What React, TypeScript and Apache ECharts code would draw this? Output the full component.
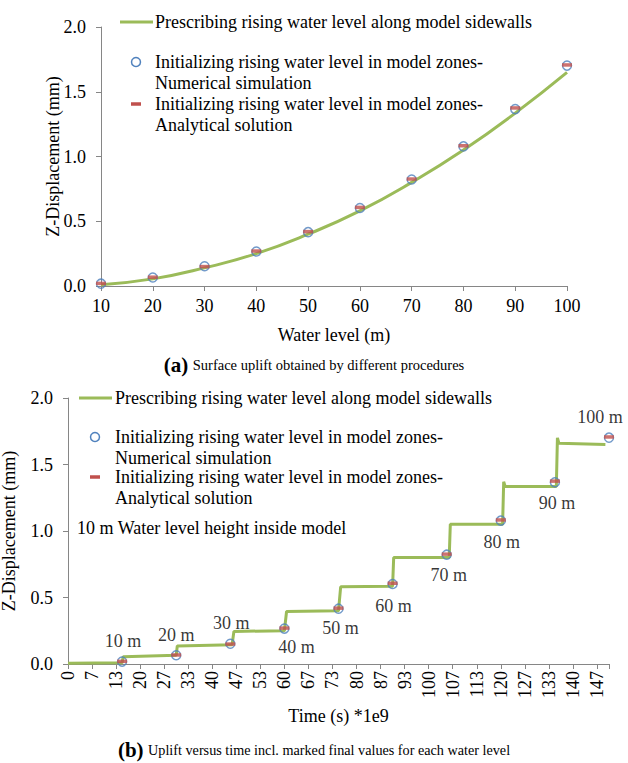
import React, { useEffect, useRef } from 'react';
import * as echarts from 'echarts';

// ---------- data ----------
const waterLevels = [10, 20, 30, 40, 50, 60, 70, 80, 90, 100];
const sidewallUplift = [0.01, 0.055, 0.14, 0.25, 0.4, 0.58, 0.8, 1.05, 1.335, 1.65];
const numericalUplift = [0.018, 0.066, 0.152, 0.266, 0.416, 0.602, 0.822, 1.078, 1.366, 1.702];
const analyticalUplift = [0.02, 0.068, 0.15, 0.27, 0.42, 0.607, 0.826, 1.083, 1.375, 1.707];

const finalTimes = [15, 30, 45, 60, 75, 90, 105, 120, 135, 150];
const levelLabels = ['10 m', '20 m', '30 m', '40 m', '50 m', '60 m', '70 m', '80 m', '90 m', '100 m'];

const stepTimes = [0, 15, 15.3, 30, 30.3, 45.5, 46, 60, 60.6, 75, 75.6, 90, 90.3, 105.7, 106, 120.5, 120.8, 121.2, 135.4, 135.7, 136.1, 149];
const stepUplift = [0.005, 0.01, 0.055, 0.065, 0.135, 0.145, 0.245, 0.25, 0.395, 0.4, 0.58, 0.585, 0.8, 0.8, 1.05, 1.05, 1.37, 1.335, 1.335, 1.7, 1.66, 1.65];

const timeTickLabels = ['0', '7', '13', '20', '27', '33', '40', '47', '53', '60', '67', '73', '80', '87', '93', '100', '107', '113', '120', '127', '133', '140', '147'];
const upliftTicks = ['0.0', '0.5', '1.0', '1.5', '2.0'];

const NAME_SIDE = 'Prescribing rising water level along model sidewalls';
const NAME_NUM = 'Initializing rising water level in model zones-\nNumerical simulation';
const NAME_ANA = 'Initializing rising water level in model zones-\nAnalytical solution';

// ---------- style ----------
const FONT = 'Liberation Serif';
const GREEN = '#9BBB59';
const BLUE = '#4F81BD';
const RED = '#C0504D';
const AXIS = '#868686';
const LABEL_OFFSETS = [[1, -20], [0, -20], [1, -21], [12, 19], [2, 20], [1, 23], [2, 21], [1, 22], [2, 22], [-9, -20]];

export default function App() {
  const ref = useRef<HTMLDivElement>(null);

  useEffect(() => {
    if (!ref.current) return;
    const chart = echarts.init(ref.current, undefined, { renderer: 'svg' });

    const yAxisBase = (gridIndex: number, nameGap: number) => ({
      type: 'value',
      gridIndex,
      min: 0,
      max: 2,
      interval: 0.5,
      name: 'Z-Displacement (mm)',
      nameLocation: 'middle',
      nameGap,
      nameMoveOverlap: false,
      nameTextStyle: { fontFamily: FONT, fontSize: 18, color: '#000' },
      axisLine: { show: true, lineStyle: { color: AXIS, width: 1 } },
      axisTick: { show: true, length: 5, lineStyle: { color: AXIS } },
      axisLabel: {
        fontFamily: FONT,
        fontSize: 18,
        color: '#000',
        margin: 15,
        formatter: (v: number) => upliftTicks[Math.round(v / 0.5)] ?? '',
      },
      splitLine: { show: false },
    });

    const txt = (x: number, y: number, text: string) => ({
      type: 'text',
      x,
      y,
      style: { text, fontFamily: FONT, fontSize: 18, lineHeight: 21, fill: '#000', verticalAlign: 'top' },
    });

    const legendGraphics = (lineX: number, textX: number, y0: number, y1: number, y2: number) => [
      { type: 'line', shape: { x1: lineX, y1: y0, x2: lineX + 33, y2: y0 }, style: { stroke: GREEN, lineWidth: 3 } },
      txt(textX, y0 - 10.5, NAME_SIDE),
      { type: 'circle', shape: { cx: lineX + 16, cy: y1, r: 4.5 }, style: { stroke: BLUE, lineWidth: 1.5, fill: 'none' } },
      txt(textX, y1 - 10.5, NAME_NUM),
      { type: 'rect', shape: { x: lineX + 11, y: y2 - 1.75, width: 10, height: 3.5 }, style: { fill: RED } },
      txt(textX, y2 - 10.5, NAME_ANA),
    ];

    const captionRich = (small: number) => ({
      b: { fontFamily: FONT, fontSize: 21, fontWeight: 'bold', color: '#000', lineHeight: 24 },
      n: { fontFamily: FONT, fontSize: small, fontWeight: 'normal', color: '#000', lineHeight: 24 },
    });

    const option: any = {
      animation: false,
      textStyle: { fontFamily: FONT },
      title: [
        {
          left: 'center',
          top: 353,
          padding: 0,
          text: '{b|(a)} {n|Surface uplift obtained by different procedures}',
          textStyle: { fontWeight: 'normal', rich: captionRich(14.5) },
        },
        {
          left: 'center',
          top: 738,
          padding: 0,
          text: '{b|(b)} {n|Uplift versus time incl. marked final values for each water level}',
          textStyle: { fontWeight: 'normal', rich: captionRich(14.2) },
        },
      ],
      grid: [
        { left: 101, top: 27, width: 466, height: 259, outerBoundsMode: 'none', containLabel: false },
        { left: 68, top: 398, width: 541, height: 266, outerBoundsMode: 'none', containLabel: false },
      ],
      xAxis: [
        {
          type: 'value',
          gridIndex: 0,
          min: 10,
          max: 100,
          interval: 10,
          name: 'Water level (m)',
          nameLocation: 'middle',
          nameGap: 40,
          nameMoveOverlap: false,
          nameTextStyle: { fontFamily: FONT, fontSize: 18, color: '#000' },
          axisLine: { show: true, lineStyle: { color: AXIS, width: 1 } },
          axisTick: { show: true, length: 5, lineStyle: { color: AXIS } },
          axisLabel: { fontFamily: FONT, fontSize: 18, color: '#000', margin: 11 },
          splitLine: { show: false },
        },
        {
          type: 'value',
          gridIndex: 1,
          min: 0,
          max: 150,
          interval: 20 / 3,
          name: 'Time (s) *1e9',
          nameLocation: 'middle',
          nameGap: 43,
          nameMoveOverlap: false,
          nameTextStyle: { fontFamily: FONT, fontSize: 18, color: '#000' },
          axisLine: { show: true, lineStyle: { color: AXIS, width: 1 } },
          axisTick: { show: true, length: 5, lineStyle: { color: AXIS } },
          axisLabel: {
            fontFamily: FONT,
            fontSize: 18,
            color: '#000',
            rotate: 90,
            margin: 7,
            formatter: (v: number) => {
              if (v > 148) return '';
              return timeTickLabels[Math.round(v / (20 / 3))] ?? '';
            },
          },
          splitLine: { show: false },
        },
      ],
      yAxis: [yAxisBase(0, 39), yAxisBase(1, 50)],
      series: [
        {
          name: NAME_SIDE,
          type: 'line',
          xAxisIndex: 0,
          yAxisIndex: 0,
          smooth: true,
          showSymbol: false,
          symbol: 'none',
          lineStyle: { color: GREEN, width: 3 },
          itemStyle: { color: GREEN },
          data: waterLevels.map((w, i) => [w, sidewallUplift[i]]),
          z: 2,
        },
        {
          name: NAME_NUM,
          type: 'scatter',
          xAxisIndex: 0,
          yAxisIndex: 0,
          symbol: 'circle',
          symbolSize: 9,
          itemStyle: { color: 'rgba(0,0,0,0)', borderColor: BLUE, borderWidth: 1.5 },
          data: waterLevels.map((w, i) => [w, numericalUplift[i]]),
          z: 3,
        },
        {
          name: NAME_ANA,
          type: 'scatter',
          xAxisIndex: 0,
          yAxisIndex: 0,
          symbol: 'rect',
          symbolSize: [10, 3.5],
          itemStyle: { color: RED },
          data: waterLevels.map((w, i) => [w, analyticalUplift[i]]),
          z: 4,
        },
        {
          name: NAME_SIDE,
          type: 'line',
          xAxisIndex: 1,
          yAxisIndex: 1,
          showSymbol: false,
          symbol: 'none',
          lineStyle: { color: GREEN, width: 3 },
          itemStyle: { color: GREEN },
          data: stepTimes.map((t, i) => [t, stepUplift[i]]),
          z: 2,
        },
        {
          name: NAME_NUM,
          type: 'scatter',
          xAxisIndex: 1,
          yAxisIndex: 1,
          symbol: 'circle',
          symbolSize: 9,
          itemStyle: { color: 'rgba(0,0,0,0)', borderColor: BLUE, borderWidth: 1.5 },
          data: finalTimes.map((t, i) => [t, numericalUplift[i]]),
          z: 3,
        },
        {
          name: NAME_ANA,
          type: 'scatter',
          xAxisIndex: 1,
          yAxisIndex: 1,
          symbol: 'rect',
          symbolSize: [10, 3.5],
          itemStyle: { color: RED },
          label: {
            show: true,
            position: 'inside',
            fontFamily: FONT,
            fontSize: 18,
            color: '#000',
          },
          data: finalTimes.map((t, i) => ({
            value: [t, analyticalUplift[i]],
            label: { formatter: levelLabels[i], offset: LABEL_OFFSETS[i] },
          })),
          z: 4,
        },
      ],
      graphic: [
        ...legendGraphics(120, 155, 22, 62, 104),
        ...legendGraphics(79, 115, 398, 437, 477),
        {
          type: 'text',
          x: 77,
          y: 528,
          style: { text: '10 m Water level height inside model', fontFamily: FONT, fontSize: 18, fill: '#000', verticalAlign: 'middle' },
        },
      ],
    };

    chart.setOption(option);
    return () => chart.dispose();
  }, []);

  return (
    <div
      ref={ref}
      style={{ position: 'absolute', left: 0, top: 0, width: 628, height: 763, background: '#fff' }}
    />
  );
}
